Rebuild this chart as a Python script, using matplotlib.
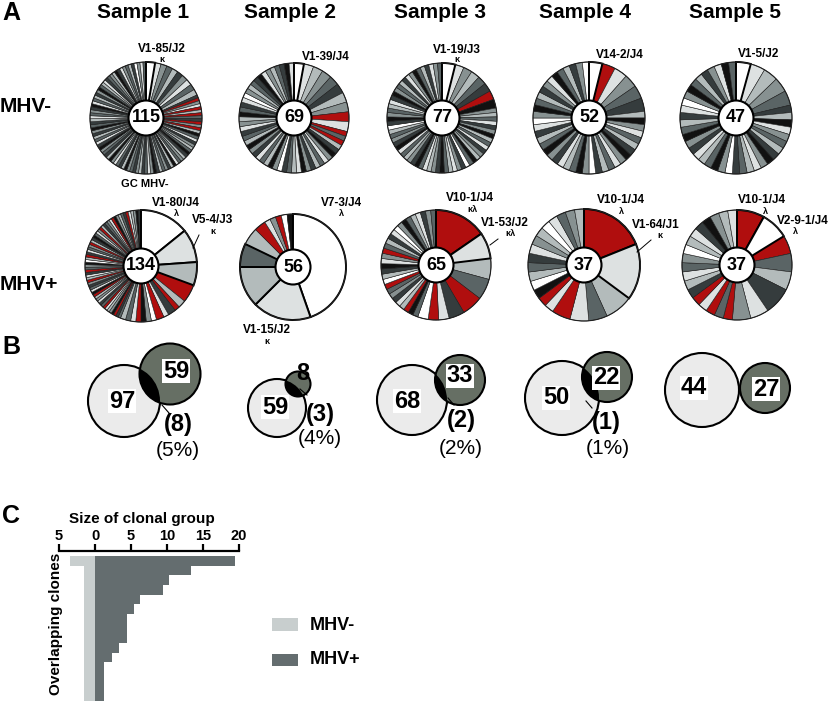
import matplotlib
matplotlib.use('Agg')
import matplotlib.pyplot as plt
from matplotlib.patches import Circle, Rectangle

plt.rcParams['font.family'] = ['Liberation Sans', 'DejaVu Sans']

# ---------------- data ----------------
samples = ['Sample 1', 'Sample 2', 'Sample 3', 'Sample 4', 'Sample 5']
neg_totals = [115, 69, 77, 52, 47]
pos_totals = [134, 56, 65, 37, 37]

# clone sizes (sequences per clone), clockwise from 12 o'clock
neg_sizes_txt = [
    """3 2 2 2 2 2 2 2 2 2
    1 1 1 1 1 1 1 1 1 1  1 1 1 1 1 1 1 1 1 1  1 1 1 1 1 1 1 1 1 1
    1 1 1 1 1 1 1 1 1 1  1 1 1 1 1 1 1 1 1 1  1 1 1 1 1 1 1 1 1 1
    1 1 1 1 1 1 1 1 1 1  1 1 1 1 1 1 1 1 1 1  1 1 1 1 1 1 1 1 1 1
    1 1 1 1""",
    """2 2 2 2 2 2 2 2 2 2
    1 1 1 1 1 1 1 1 1 1  1 1 1 1 1 1 1 1 1 1  1 1 1 1 1 1 1 1 1 1
    1 1 1 1 1 1 1 1 1 1  1 1 1 1 1 1 1 1 1""",
    """3 2 2 2 2 2 2 2
    1 1 1 1 1 1 1 1 1 1  1 1 1 1 1 1 1 1 1 1  1 1 1 1 1 1 1 1 1 1
    1 1 1 1 1 1 1 1 1 1  1 1 1 1 1 1 1 1 1 1  1 1 1 1 1 1 1 1 1 1""",
    """2 2 2 2 2 2
    1 1 1 1 1 1 1 1 1 1  1 1 1 1 1 1 1 1 1 1  1 1 1 1 1 1 1 1 1 1
    1 1 1 1 1 1 1 1 1 1""",
    """2 2 2 2 2
    1 1 1 1 1 1 1 1 1 1  1 1 1 1 1 1 1 1 1 1  1 1 1 1 1 1 1 1 1 1
    1 1 1 1 1 1 1""",
]
neg_colors = [
    "WLMDGKMLDG" "KRMLRGRDKR" "MRGBDLKMGD" "BKGMDLBGKM" "DGKBMLDKGM"
    "KDMBGKDLMB" "GKDMBKLDGK" "MBDKGLDMKB" "LDGKMBDGLK" "DMGBKLMDGK" "WMLD",
    "WLGMDKGMRL" "RDRGKBMLDG" "KMBLGDKWMB" "GDLKMBGDKL" "MGBDKLWMGD" "KBLMGDKBL",
    "WLMGDKRBMG" "DLKMBGDLKM" "GBDWKMLGDB" "KMGLDBKMGD" "LBKMDGWKBM" "DGLKBMDGKL" "MBDGKLMD",
    "WRLMDKGBML" "DGKBMLDGKW" "MBDGLKMBDG" "KLWMBDGKML" "BDGKMW",
    "WLGMDKGBLM" "DGKBMLGDKW" "MBDGLKMBDG" "KLWMBDGKML" "BD",
]
pos_sizes_txt = [
    """19 13 9 7 3 2 3 2 3 2 2 2 2 2 2 2
    1 1 1 1 1 1 1 1 1 1  1 1 1 1 1 1 1 1 1 1  1 1 1 1 1 1 1 1 1 1
    1 1 1 1 1 1 1 1 1 1  1 1 1 1 1 1 1 1 1 1  1 1 1 1 1 1 1 1 1""",
    """25 10 7 4 3 2 1 1 1 1 1""",
    """10 5 4 4 4 3 2 2 2
    1 1 1 1 1 1 1 1 1 1  1 1 1 1 1 1 1 1 1 1  1 1 1 1 1 1 1 1 1""",
    """7 6 3 2 2 2
    1 1 1 1 1 1 1 1 1 1  1 1 1 1 1""",
    """3 3 2 2 2 3 2 2
    1 1 1 1 1 1 1 1 1 1  1 1 1 1 1 1 1 1""",
]
pos_colors = [
    "WLGR" "GRKLRWMBRLDG" "DKRBMGLRDKLMGRBLDKMR" "GLKRDMBWGRKLDMRGKBDL" "MRGKDMLRBMGDKRLGMBK",
    "WLGDGRLMRWB",
    "RLGDRKLRW" "DBRGLKMDRWGKBLMRDGKLWMBDGLKMD",
    "RLGDLR" "LRBWGDKLMGWLDMG",
    "RWRDGKLM" "RDRLRKGLDMWGLKBMGL",
]
neg_labels = [('V1-85/J2', 'κ'), ('V1-39/J4', ''), ('V1-19/J3', 'κ'), ('V14-2/J4', ''), ('V1-5/J2', '')]
pos_labels = [[('V1-80/J4', 'λ'), ('V5-4/J3', 'κ')],
              [('V7-3/J4', 'λ'), ('V1-15/J2', 'κ')],
              [('V10-1/J4', 'κλ'), ('V1-53/J2', 'κλ')],
              [('V10-1/J4', 'λ'), ('V1-64/J1', 'κ')],
              [('V10-1/J4', 'λ'), ('V2-9-1/J4', 'λ')]]

# Venn (panel B)
neg_only = [97, 59, 68, 50, 44]
pos_only = [59, 8, 33, 22, 27]
shared = ['(8)', '(3)', '(2)', '(1)', '']
shared_pct = ['(5%)', '(4%)', '(2%)', '(1%)', '']

# Panel C: size of overlapping clonal groups
clone_neg = [3.5, 1.5, 1.5, 1.5, 1.5, 1.5, 1.5, 1.5, 1.5, 1.5, 1.5, 1.5, 1.5, 1.5, 1.5]
clone_pos = [19.4, 13.3, 10.3, 9.4, 6.3, 5.4, 4.4, 4.4, 4.4, 3.4, 2.4, 1.3, 1.3, 1.3, 1.3]
x_ticks = [-5, 0, 5, 10, 15, 20]
x_ticklabels = ['5', '0', '5', '10', '15', '20']

# ---------------- style ----------------
SHADES = {'W': '#ffffff', 'L': '#dde1e1', 'G': '#b3bbbb', 'M': '#879191',
          'D': '#5a6465', 'K': '#353c3d', 'B': '#111111', 'R': '#b00e0e'}
VENN_LIGHT = '#ebebeb'
VENN_DARK = '#666f64'
BAR_LIGHT = '#c8cece'
BAR_DARK = '#646d6f'

FW, FH = 832, 702
fig = plt.figure(figsize=(FW / 100, FH / 100), dpi=100)
ax = fig.add_axes([0, 0, 1, 1])
ax.patch.set_alpha(0)


def Y(y):
    return FH - y


def draw_pie(sizes, colors, total, cx, cy, r, nthick):
    cols = [SHADES[colors[i % len(colors)]] for i in range(len(sizes))]
    wedges, _ = ax.pie(sizes, colors=cols, center=(cx, Y(cy)), radius=r,
                       startangle=90, counterclock=False,
                       wedgeprops=dict(edgecolor='#1a1a1a', linewidth=0.4))
    for w in wedges[:nthick]:
        w.set_linewidth(1.4)
        w.set_edgecolor('black')
        w.set_zorder(3)
    ax.add_patch(Circle((cx, Y(cy)), r, fill=False, ec='#202020', lw=0.8, zorder=4))
    ax.add_patch(Circle((cx, Y(cy)), 17.5, fc='white', ec='black', lw=1.5, zorder=5))
    ax.text(cx, Y(cy), str(total), ha='center', va='center', fontsize=13,
            fontweight='bold', zorder=6)


neg_centers = [(146, 118, 56), (294, 118, 55), (442, 118, 55), (589, 118, 56), (736, 118, 56)]
pos_centers = [(141, 266, 56), (293, 267, 53), (436, 265, 55), (584, 265, 56), (737, 265, 55)]
pos_thick = [3, 4, 2, 2, 2]

for i in range(5):
    cx, cy, r = neg_centers[i]
    draw_pie([int(t) for t in neg_sizes_txt[i].split()], neg_colors[i], neg_totals[i], cx, cy, r, 1)
    cx, cy, r = pos_centers[i]
    draw_pie([int(t) for t in pos_sizes_txt[i].split()], pos_colors[i], pos_totals[i], cx, cy, r, pos_thick[i])

# Titles / panel letters
title_x = [143, 290, 440, 585, 735]
for s, x in zip(samples, title_x):
    ax.text(x, Y(18), s, ha='center', va='baseline', fontsize=15, fontweight='bold')
for letter, y in [('A', 13), ('B', 347), ('C', 516)]:
    ax.text(2, Y(y), letter, ha='left', va='center', fontsize=18, fontweight='bold')
ax.text(0, Y(106), 'MHV-', ha='left', va='center', fontsize=15, fontweight='bold')
ax.text(0, Y(284), 'MHV+', ha='left', va='center', fontsize=15, fontweight='bold')

# pie labels
neg_lab_pos = [((162, 49), (162, 60)), ((326, 57), None), ((457, 50), (457, 60)),
               ((620, 55), None), ((759, 54), None)]
for (g, c), (gp, cp) in zip(neg_labels, neg_lab_pos):
    ax.text(gp[0], Y(gp[1]), g, ha='center', va='center', fontsize=8.5, fontweight='bold')
    if c and cp:
        ax.text(cp[0], Y(cp[1]), c, ha='center', va='center', fontsize=6.5, fontweight='bold')
ax.text(145, Y(184), 'GC MHV-', ha='center', va='center', fontsize=8, fontweight='bold')

pos_lab_pos = [[((176, 203), (176, 214)), ((213, 220), (213, 231))],
               [((341, 203), (341, 214)), ((267, 330), (267, 341))],
               [((470, 198), (472, 209)), ((505, 223), (510, 234))],
               [((621, 200), (621, 211)), ((656, 225), (660, 236))],
               [((762, 200), (765, 211)), ((803, 221), (795, 232))]]
for labs, poss in zip(pos_labels, pos_lab_pos):
    for (g, c), (gp, cp) in zip(labs, poss):
        ax.text(gp[0], Y(gp[1]), g, ha='center', va='center', fontsize=8.5,
                fontweight='bold', zorder=7)
        ax.text(cp[0], Y(cp[1]), c, ha='center', va='center', fontsize=6.5,
                fontweight='bold', zorder=7)
for (x0, y0), (x1, y1) in [((199, 235), (193, 248)), ((651, 240), (637, 252)),
                           ((498, 239), (490, 245))]:
    ax.plot([x0, x1], [Y(y0), Y(y1)], color='black', lw=0.7, zorder=7)

# Venn diagrams
venn_light = [(124, 401, 36), (277, 408, 29), (412, 400, 35), (562, 398, 37), (702, 390, 37)]
venn_dark = [(170, 374, 30.5), (298, 384, 12.5), (460, 380, 25), (607, 377, 25), (765, 388, 25)]
lab_neg = [(122, 401), (275, 407), (407, 401), (556, 398), (694, 388)]
lab_pos = [(176, 371), (303, 373), (460, 376), (606, 378), (766, 389)]
lab_sh = [(178, 425), (320, 415), (461, 421), (606, 423), None]
lab_pct = [(178, 451), (320, 439), (461, 448), (608, 449), None]
lead = [((162, 405), (169, 413)), ((300, 389), (307, 395)), ((448, 398), (454, 405)),
        ((586, 401), (592, 408)), None]
for i in range(5):
    lx, ly, lr = venn_light[i]
    dx, dy, dr = venn_dark[i]
    lc = Circle((lx, Y(ly)), lr, fc=VENN_LIGHT, ec='black', lw=1.5, zorder=2)
    ax.add_patch(lc)
    ax.add_patch(Circle((dx, Y(dy)), dr, fc=VENN_DARK, ec='black', lw=1.5, zorder=3))
    inter = Circle((dx, Y(dy)), dr, fc='black', ec='none', zorder=4)
    ax.add_patch(inter)
    inter.set_clip_path(lc)
    ax.text(lab_neg[i][0], Y(lab_neg[i][1]), str(neg_only[i]), ha='center', va='center',
            fontsize=17, fontweight='bold', zorder=6,
            bbox=dict(fc='white', ec='none', pad=0.5))
    bb = None if i == 1 else dict(fc='white', ec='none', pad=0.5)
    ax.text(lab_pos[i][0], Y(lab_pos[i][1]), str(pos_only[i]), ha='center', va='center',
            fontsize=17, fontweight='bold', zorder=6, bbox=bb)
    if shared[i]:
        ax.text(lab_sh[i][0], Y(lab_sh[i][1]), shared[i], ha='center', va='center',
                fontsize=17, fontweight='bold', zorder=6)
        ax.text(lab_pct[i][0], Y(lab_pct[i][1]), shared_pct[i], ha='center', va='center',
                fontsize=15, zorder=6)
        (x0, y0), (x1, y1) = lead[i]
        ax.plot([x0, x1], [Y(y0), Y(y1)], color='black', lw=0.8, zorder=6)

# Panel C texts + legend
ax.text(142, Y(519), 'Size of clonal group', ha='center', va='center', fontsize=11,
        fontweight='bold')
ax.text(56, Y(624), 'Overlapping clones', ha='center', va='center', rotation=90,
        fontsize=11, fontweight='bold')
ax.add_patch(Rectangle((272, Y(631)), 26, 13, fc=BAR_LIGHT, ec='none'))
ax.add_patch(Rectangle((272, Y(666)), 26, 12, fc=BAR_DARK, ec='none'))
ax.text(310, Y(625), 'MHV-', ha='left', va='center', fontsize=13, fontweight='bold')
ax.text(310, Y(660), 'MHV+', ha='left', va='center', fontsize=13, fontweight='bold')

ax.set_xlim(0, FW)
ax.set_ylim(0, FH)
ax.set_aspect('auto')
ax.axis('off')

# Panel C chart
ax2 = fig.add_axes([59 / FW, 0, 180 / FW, 151 / FH])
rows = list(range(len(clone_pos)))
ax2.barh(rows, [-v for v in clone_neg], height=1, color=BAR_LIGHT, lw=0)
ax2.barh(rows, clone_pos, height=1, color=BAR_DARK, lw=0)
ax2.set_xlim(-5, 20)
ax2.set_ylim(14.63, -1.02)
ax2.xaxis.tick_top()
ax2.set_xticks(x_ticks)
ax2.set_xticklabels(x_ticklabels)
for lbl in ax2.get_xticklabels():
    lbl.set_fontweight('bold')
ax2.set_yticks([])
for s in ['left', 'right', 'bottom']:
    ax2.spines[s].set_visible(False)
ax2.spines['top'].set_linewidth(1.6)
ax2.tick_params(axis='x', direction='out', length=5, width=1.6, labelsize=10.5, pad=1)
ax2.patch.set_alpha(0)

fig.savefig('out.png', dpi=100)
